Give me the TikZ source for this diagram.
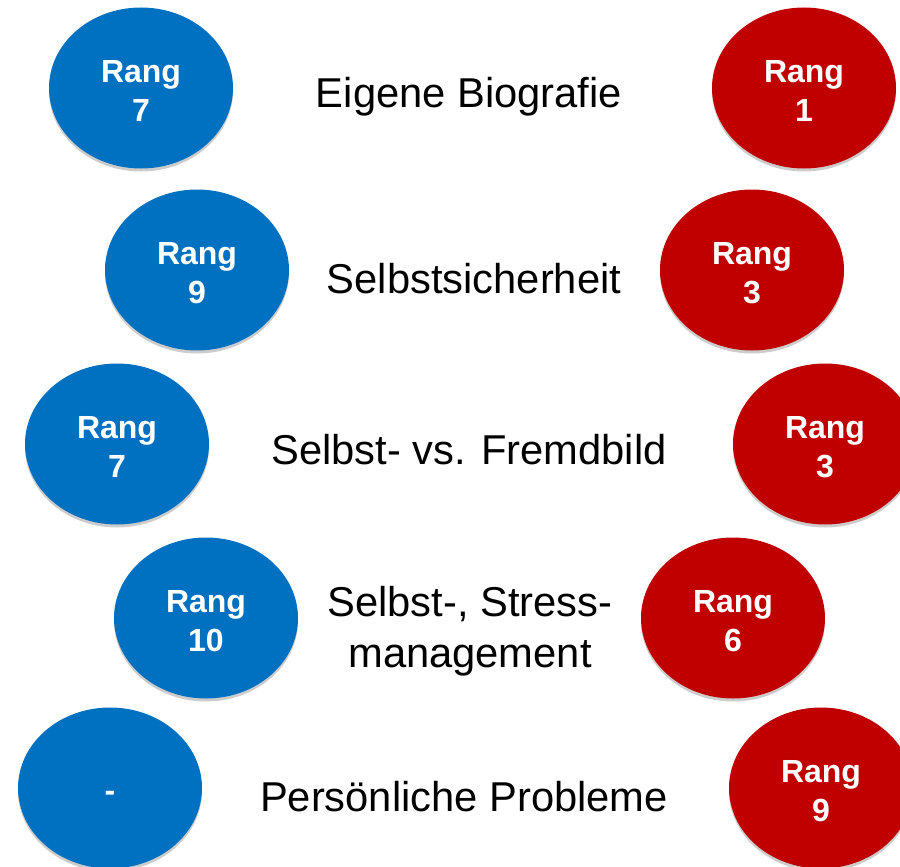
\documentclass[tikz,border=0pt]{standalone}
\usepackage{fontspec}
\setmainfont{Liberation Sans}
\usetikzlibrary{shadows,shapes.geometric}
\definecolor{rblue}{HTML}{0070C0}
\definecolor{rred}{HTML}{C00000}
\tikzset{
  rank/.style={ellipse, minimum width=184pt, minimum height=161pt, inner sep=0pt,
    align=center, text=white, font=\bfseries\fontsize{32}{39}\selectfont,
    drop shadow={shadow xshift=0pt, shadow yshift=-3pt, opacity=0.2, fill=black}},
  bluerank/.style={rank, fill=rblue},
  redrank/.style={rank, fill=rred},
  topic/.style={align=center, inner sep=0pt, font=\fontsize{41.7}{51}\selectfont}
}
\begin{document}
\begin{tikzpicture}[x=1pt, y=-1pt]
\useasboundingbox (0,0) rectangle (900,867);
\node[bluerank] (b1) at (141,88) {\rule{0pt}{28pt}Rang\\7};
\node[bluerank] (b2) at (197,270) {\rule{0pt}{28pt}Rang\\9};
\node[bluerank] (b3) at (117,444) {\rule{0pt}{28pt}Rang\\7};
\node[bluerank] (b4) at (206,618) {\rule{0pt}{28pt}Rang\\10};
\node[bluerank] (b5) at (110,788) {\raisebox{-13pt}[0pt][0pt]{-}};
\node[redrank] (r1) at (804,88) {\rule{0pt}{28pt}Rang\\1};
\node[redrank] (r2) at (752,270) {\rule{0pt}{28pt}Rang\\3};
\node[redrank] (r3) at (825,444) {\rule{0pt}{28pt}Rang\\3};
\node[redrank] (r4) at (733,618) {\rule{0pt}{28pt}Rang\\6};
\node[redrank] (r5) at (821,788) {\rule{0pt}{28pt}Rang\\9};
\node[topic, anchor=base] (t1) at (469,107) {Eigene Biografie};
\node[topic, anchor=base] (t2) at (474,293) {Selbstsicherheit};
\node[topic, anchor=base] (t3) at (469,464) {Selbst- vs. Fremdbild};
\node[topic] (t4) at (470,631) {Selbst-, Stress-\\management};
\node[topic, anchor=base] (t5) at (464,811) {Persönliche Probleme};
\end{tikzpicture}
\end{document}
